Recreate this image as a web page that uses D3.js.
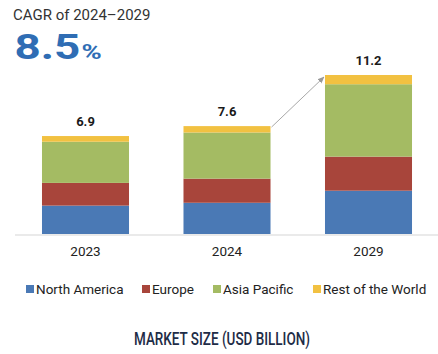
<!DOCTYPE html>
<html><head><meta charset="utf-8">
<script src="https://cdn.jsdelivr.net/npm/d3@7"></script>
<style>
html,body{margin:0;padding:0;background:#fff;}
svg{display:block;font-family:Roboto,"Noto Sans",sans-serif;}
</style></head>
<body>
<svg id="chart" width="438" height="354"></svg>
<script>
const years = ["2023", "2024", "2029"];
const regions = ["North America", "Europe", "Asia Pacific", "Rest of the World"];
const northAmerica = [2.0, 2.2, 3.05];
const europe = [1.6, 1.7, 2.4];
const asiaPacific = [2.9, 3.25, 5.1];
const restOfWorld = [0.4, 0.45, 0.65];
const totals = [6.9, 7.6, 11.2];
const colors = ["#4a79b5", "#a8453b", "#a4bb63", "#f2c141"];

const svg = d3.select("#chart");
const rows = years.map((y, i) => ({
  year: y,
  "North America": northAmerica[i],
  "Europe": europe[i],
  "Asia Pacific": asiaPacific[i],
  "Rest of the World": restOfWorld[i],
  total: totals[i]
}));

const x = d3.scaleBand().domain(years).range([14.75, 439.25]).paddingInner(0.385).paddingOuter(0.1925);
const y = d3.scaleLinear().domain([0, 11.2]).range([234, 75]);
const color = d3.scaleOrdinal().domain(regions).range(colors);

// header
svg.append("text").attr("x", 13).attr("y", 20).attr("font-size", 15).attr("fill", "#333")
  .text("CAGR of 2024\u20132029");
const big = svg.append("g");
const bigText = big.append("text").attr("x", 0).attr("y", 0).attr("font-size", 35).attr("font-weight", 700)
  .attr("fill", "#2f6db4");
bigText.append("tspan").text("8.5");
bigText.append("tspan").attr("font-size", 21).attr("dx", 1).text("%");
const natural = bigText.node().getComputedTextLength();
const sx = 86 / natural;
big.attr("transform", `translate(14.5,58.5) scale(${sx},1)`);

// axis baseline
svg.append("line").attr("x1", 15).attr("x2", 438).attr("y1", y(0) + 1).attr("y2", y(0) + 1)
  .attr("stroke", "#e3e3e3").attr("stroke-width", 1.5);

const stacked = d3.stack().keys(regions)(rows);
svg.append("g").selectAll("g").data(stacked).join("g")
  .attr("fill", d => color(d.key))
  .selectAll("rect").data(d => d).join("rect")
  .attr("x", d => x(d.data.year))
  .attr("width", x.bandwidth())
  .attr("y", d => y(d[1]))
  .attr("height", d => y(d[0]) - y(d[1]));

// totals
svg.append("g").selectAll("text").data(rows).join("text")
  .attr("x", d => x(d.year) + x.bandwidth() / 2)
  .attr("y", d => y(d.total) - 10)
  .attr("text-anchor", "middle").attr("font-size", 13).attr("font-weight", 700).attr("fill", "#1a1a1a")
  .text(d => d.total.toFixed(1));

// x axis labels
const xAxis = d3.axisBottom(x).tickSize(0).tickPadding(12);
const gx = svg.append("g").attr("transform", `translate(0,${y(0)})`).call(xAxis);
gx.select(".domain").remove();
gx.selectAll("text").attr("font-size", 13.5).attr("fill", "#222").attr("font-family", "Roboto");

// arrow
const defs = svg.append("defs");
defs.append("marker").attr("id", "arr").attr("viewBox", "0 0 10 10").attr("refX", 9).attr("refY", 5)
  .attr("markerWidth", 7).attr("markerHeight", 7).attr("orient", "auto-start-reverse")
  .append("path").attr("d", "M0,1L10,5L0,9z").attr("fill", "#999");
svg.append("line")
  .attr("x1", x("2024") + x.bandwidth() + 1).attr("y1", y(totals[1]) + 1)
  .attr("x2", x("2029") - 1).attr("y2", y(totals[2]) + 2)
  .attr("stroke", "#a8a8a8").attr("stroke-width", 1).attr("marker-end", "url(#arr)");

// legend
const legendX = [26, 142, 213, 313];
const lg = svg.append("g").selectAll("g").data(regions).join("g")
  .attr("transform", (d, i) => `translate(${legendX[i]},285)`);
lg.append("rect").attr("width", 8).attr("height", 8).attr("y", 0).attr("fill", d => color(d));
lg.append("text").attr("x", 10).attr("y", 8.8).attr("font-size", 13.5).attr("fill", "#222").text(d => d);

// title
svg.append("text").attr("x", 134).attr("y", 344.5).attr("font-size", 17.5).attr("font-weight", 500)
  .attr("fill", "#1e2c47").attr("textLength", 176).attr("lengthAdjust", "spacingAndGlyphs")
  .text("MARKET SIZE (USD BILLION)");
</script>
</body></html>
